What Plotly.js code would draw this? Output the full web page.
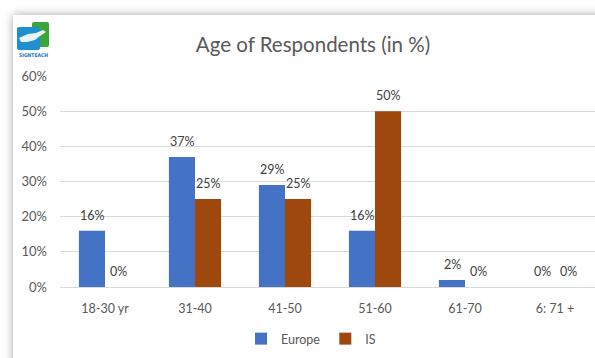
<!DOCTYPE html>
<html>
<head>
<meta charset="utf-8">
<script src="https://cdn.plot.ly/plotly-3.0.1.min.js"></script>
<style>
  html, body { margin: 0; padding: 0; width: 595px; height: 358px; overflow: hidden; background: #ffffff; }
  #card { position: absolute; left: 13px; top: 15px; width: 640px; height: 400px; background: #ffffff;
          box-shadow: 0 0 9px rgba(0,0,0,0.35); }
  #chart { position: absolute; left: 0; top: 0; width: 600px; height: 358px; }
  #logo { position: absolute; left: 16px; top: 21px; }
</style>
</head>
<body>
<div id="card"></div>
<div id="chart"></div>
<svg id="logo" width="36" height="38" viewBox="0 0 36 38">
  <rect x="16" y="1" width="17" height="25" rx="2" fill="#3aa53a"/>
  <rect x="1" y="6" width="23" height="23" rx="2" fill="#1f8fd0"/>
  <path d="M3 17 L12 13 L20 12 L27 9 L30 11 L24 15 L19 19 L11 21 L5 21 Z" fill="#ffffff" opacity="0.9"/>
  <text x="17.5" y="35.5" text-anchor="middle" font-family="DejaVu Sans Condensed, sans-serif" font-size="5" font-weight="bold" fill="#1b78b8">SIGNTEACH</text>
</svg>
<script>
// Age groups and share of respondents per region (percent)
const ageGroups = ['18-30 yr', '31-40', '41-50', '51-60', '61-70', '6: 71 +'];
const europe = [16, 37, 29, 16, 2, 0];
const is = [0, 25, 25, 50, 0, 0];
const yTicks = [0, 10, 20, 30, 40, 50, 60];
const yTickText = yTicks.map(v => v + '%');

const font = 'Lato, "Open Sans", sans-serif';
const grey = '#595959';

const traces = [
  { type: 'bar', name: 'Europe', x: ageGroups, y: europe, marker: { color: '#4472C4' }, hoverinfo: 'none' },
  { type: 'bar', name: 'IS', x: ageGroups, y: is, marker: { color: '#9E480E' }, hoverinfo: 'none' }
];

// value labels above each bar, offset to its half of the group
const annotations = [];
ageGroups.forEach((g, i) => {
  annotations.push({ x: g, y: europe[i], xref: 'x', yref: 'y', text: europe[i] + '%', showarrow: false,
    xshift: -13, yshift: 6, yanchor: 'bottom', font: { family: font, size: 12.5, color: '#404040' } });
  annotations.push({ x: g, y: is[i], xref: 'x', yref: 'y', text: is[i] + '%', showarrow: false,
    xshift: 13, yshift: 6, yanchor: 'bottom', font: { family: font, size: 12.5, color: '#404040' } });
});

const layout = {
  width: 600, height: 358,
  margin: { l: 60, r: 0, t: 76, b: 71 },
  paper_bgcolor: 'rgba(0,0,0,0)', plot_bgcolor: 'rgba(0,0,0,0)',
  font: { family: font, size: 12.5, color: grey },
  title: { text: 'Age of Respondents (in %)', x: 313 / 600, xanchor: 'center', xref: 'container',
           y: 1 - 45 / 358, yanchor: 'middle', yref: 'container',
           font: { family: font, size: 20.5, color: grey } },
  barmode: 'group', bargap: 0.42, bargroupgap: 0,
  xaxis: { type: 'category', showgrid: false, showline: true, linecolor: '#d9d9d9', linewidth: 1,
           ticks: '', ticklabelstandoff: 10, tickfont: { family: font, size: 12.5, color: grey }, fixedrange: true },
  yaxis: { range: [0, 60], tickvals: yTicks, ticktext: yTickText, showgrid: true, gridcolor: '#d9d9d9',
           gridwidth: 1, zeroline: false, showline: false, ticks: '', ticklabelstandoff: 12,
           tickfont: { family: font, size: 13, color: grey }, fixedrange: true },
  showlegend: true,
  legend: { orientation: 'h', x: 311 / 600, xanchor: 'center', xref: 'container', y: 1 - 339 / 358, yanchor: 'middle',
            yref: 'container', font: { family: font, size: 12.5, color: grey }, itemwidth: 30, itemgap: 0,
            traceorder: 'normal' },
  annotations: annotations
};

Plotly.newPlot('chart', traces, layout, { staticPlot: true, displayModeBar: false });
</script>
</body>
</html>
